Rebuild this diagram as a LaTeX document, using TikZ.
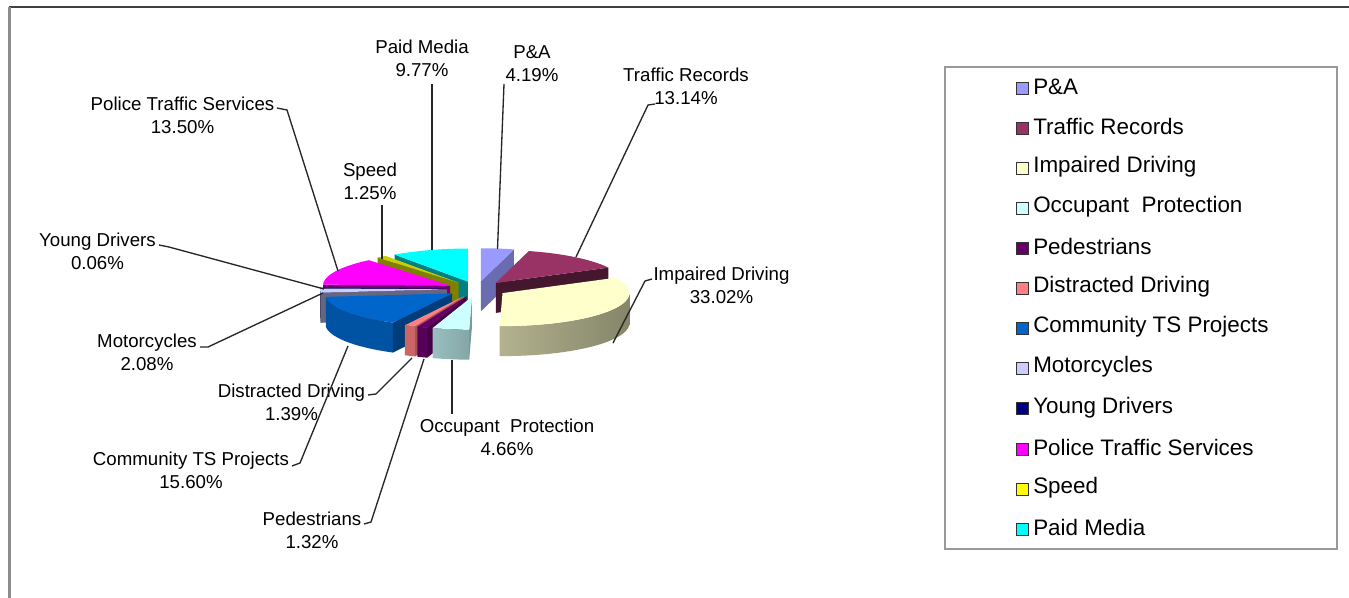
\documentclass[tikz,border=0pt]{standalone}
\usepackage{fontspec}
\setmainfont{Liberation Sans}
\definecolor{cPA}{HTML}{9999FF}
\definecolor{cTR}{HTML}{993366}
\definecolor{cID}{HTML}{FFFFCC}
\definecolor{cOP}{HTML}{CCFFFF}
\definecolor{cPed}{HTML}{660066}
\definecolor{cDD}{HTML}{FF8080}
\definecolor{cCTS}{HTML}{0066CC}
\definecolor{cMoto}{HTML}{CCCCFF}
\definecolor{cYD}{HTML}{000080}
\definecolor{cPTS}{HTML}{FF00FF}
\definecolor{cSpeed}{HTML}{FFFF00}
\definecolor{cPM}{HTML}{00FFFF}
\newcommand\lblfont{\fontsize{14}{17.3}\selectfont}
\newcommand\legfont{\fontsize{16.8}{20}\selectfont}
% slice centre (exploded) for a slice from #1 to #2 degrees clockwise from top
\newcommand\setctr[2]{%
  \pgfmathsetmacro\pmidang{(#1+#2)/2}%
  \pgfmathsetmacro\pcx{477+30*sin(\pmidang)}%
  \pgfmathsetmacro\pcy{289-7.8*cos(\pmidang)}}
\newcommand\topface[3]{%
  \fill[#3] (\pcx,\pcy) -- plot[domain=#1:#2,samples=40,variable=\t]
    ({\pcx+127*sin(\t)},{\pcy-33*cos(\t)}) -- cycle;}
\newcommand\outerface[3]{%
  \path[#3] plot[domain=#1:#2,samples=40,variable=\t]
    ({\pcx+127*sin(\t)},{\pcy-33*cos(\t)}) --
    plot[domain=#2:#1,samples=40,variable=\t]
    ({\pcx+127*sin(\t)},{\pcy+30-33*cos(\t)}) -- cycle;}
\newcommand\cutface[2]{%
  \fill[#2] (\pcx,\pcy) -- ({\pcx+127*sin(#1)},{\pcy-33*cos(#1)}) -- ++(0,30)
    -- (\pcx,\pcy+30) -- cycle;}
\begin{document}
\begin{tikzpicture}[x=0.75pt,y=-0.75pt,
  lbl/.style={align=center,inner sep=0pt,font=\lblfont},
  leader/.style={draw=black!85,line width=1pt},
  legsq/.style={draw=black!80,line width=0.6pt,minimum size=9pt,inner sep=0pt},
  legtx/.style={anchor=west,inner sep=0pt,font=\legfont}]
\useasboundingbox (0,0) rectangle (1349,598);
\fill[white] (0,0) rectangle (1349,598);
% outer frame
\draw[black!75,line width=1.5pt] (9,7) -- (1349,7);
\draw[black!45,line width=1.8pt] (9.5,7) -- (9.5,598);
% ---- pie slices, back to front ----
% P&A
\setctr{0}{15.084}
\cutface{15.084}{cPA!70!black}
\topface{0}{15.084}{cPA}
% Paid Media
\setctr{324.756}{360}
\cutface{324.756}{cPM!50!black}
\topface{324.756}{360}{cPM}
% Speed
\setctr{320.256}{324.756}
\cutface{320.256}{cSpeed!50!black}
\topface{320.256}{324.756}{cSpeed!80!black}
% Traffic Records
\setctr{15.084}{62.388}
\cutface{62.388}{cTR!45!black}
\topface{15.084}{62.388}{cTR}
% Police Traffic Services
\setctr{271.656}{320.256}
\cutface{271.656}{cPTS!45!black}
\topface{271.656}{320.256}{cPTS}
% Young Drivers
\setctr{271.44}{271.656}
\cutface{271.44}{cYD!60!black}
\topface{271.44}{271.656}{cYD}
% Motorcycles
\setctr{263.952}{271.44}
\outerface{263.952}{270}{fill=cMoto!45!black}
\cutface{263.952}{cMoto!50!black}
\topface{263.952}{271.44}{cMoto}
% Impaired Driving
\setctr{62.388}{181.26}
\outerface{90}{181.26}{left color=cID!70!black,right color=cID!52!black}
\topface{62.388}{181.26}{cID}
% Community TS Projects
\setctr{207.792}{263.952}
\outerface{207.792}{263.952}{fill=cCTS!80!black}
\cutface{207.792}{cCTS!60!black}
\topface{207.792}{263.952}{cCTS}
% Distracted Driving
\setctr{202.788}{207.792}
\outerface{202.788}{207.792}{fill=cDD!80!black}
\cutface{202.788}{cDD!65!black}
\topface{202.788}{207.792}{cDD}
% Pedestrians
\setctr{198.036}{202.788}
\outerface{198.036}{202.788}{fill=cPed!85!black}
\cutface{198.036}{cPed!70!black}
\topface{198.036}{202.788}{cPed}
% Occupant Protection
\setctr{181.26}{198.036}
\outerface{181.26}{198.036}{left color=cOP!75!black,right color=cOP!65!black}
\cutface{181.26}{cOP!60!black}
\topface{181.26}{198.036}{cOP}
% ---- labels ----
\node[lbl] (lPM) at (422,58.5) {Paid Media\\9.77\%};
\node[lbl] (lPA) at (532,63.5) {P\&A\\4.19\%};
\node[lbl] (lTR) at (686,86.5) {Traffic Records\\13.14\%};
\node[lbl] (lID) at (721.5,285) {Impaired Driving\\33.02\%};
\node[lbl] (lOP) at (507,437) {Occupant~ Protection\\4.66\%};
\node[lbl] (lPed) at (312,530.5) {Pedestrians\\1.32\%};
\node[lbl] (lCTS) at (191,470) {Community TS Projects\\15.60\%};
\node[lbl] (lDD) at (291.5,402) {Distracted Driving\\1.39\%};
\node[lbl] (lMoto) at (147,352.5) {Motorcycles\\2.08\%};
\node[lbl] (lYD) at (97.5,251.5) {Young Drivers\\0.06\%};
\node[lbl] (lPTS) at (182.5,115) {Police Traffic Services\\13.50\%};
\node[lbl] (lSp) at (370,181.5) {Speed\\1.25\%};
% ---- leader lines ----
\coordinate (pmA) at (432,84);   \coordinate (pmB) at (432,250);
\coordinate (paA) at (504,84);   \coordinate (paB) at (497.5,249);
\coordinate (trA) at (655,104);  \coordinate (trK) at (648,105); \coordinate (trB) at (576,257);
\coordinate (idA) at (652,279);  \coordinate (idK) at (645,281); \coordinate (idB) at (613,343);
\coordinate (opA) at (452,414);  \coordinate (opB) at (452,360);
\coordinate (peA) at (364,524);  \coordinate (peK) at (371,522); \coordinate (peB) at (424,359);
\coordinate (ddA) at (368,395);  \coordinate (ddK) at (376,394); \coordinate (ddB) at (412,358);
\coordinate (ctA) at (292,466);  \coordinate (ctK) at (300,463); \coordinate (ctB) at (348,346);
\coordinate (moA) at (200,347);  \coordinate (moK) at (208,347); \coordinate (moB) at (323,293);
\coordinate (ydA) at (159,245);  \coordinate (ydK) at (169,247); \coordinate (ydB) at (324,289);
\coordinate (ptA) at (277,108);  \coordinate (ptK) at (287,110); \coordinate (ptB) at (338,271);
\coordinate (spA) at (382,205);  \coordinate (spB) at (382,259);
\draw[leader] (pmA) -- (pmB);
\draw[leader] (paA) -- (paB);
\draw[leader] (trA) -- (trK) -- (trB);
\draw[leader] (idA) -- (idK) -- (idB);
\draw[leader] (opA) -- (opB);
\draw[leader] (peA) -- (peK) -- (peB);
\draw[leader] (ddA) -- (ddK) -- (ddB);
\draw[leader] (ctA) -- (ctK) -- (ctB);
\draw[leader] (moA) -- (moK) -- (moB);
\draw[leader] (ydA) -- (ydK) -- (ydB);
\draw[leader] (ptA) -- (ptK) -- (ptB);
\draw[leader] (spA) -- (spB);
% ---- legend ----
\node[draw=black!40,line width=1.5pt,inner sep=0pt,minimum width=294pt,minimum height=361.5pt,anchor=north west] (legbox) at (944,66) {};
\foreach [count=\i from 0] \c/\t in {cPA/P\&A,cTR/Traffic Records,cID/Impaired Driving,cOP/Occupant~ Protection,cPed/Pedestrians,cDD/Distracted Driving,cCTS/Community TS Projects,cMoto/Motorcycles,cYD/Young Drivers,cPTS/Police Traffic Services,cSpeed/Speed,cPM/Paid Media}{
  \node[legsq,fill=\c] (lsq\i) at (1022,{88+40.1*\i}) {};
  \node[legtx] (ltx\i) at (1033,{86.5+40.1*\i}) {\t};
}
\end{tikzpicture}
\end{document}
